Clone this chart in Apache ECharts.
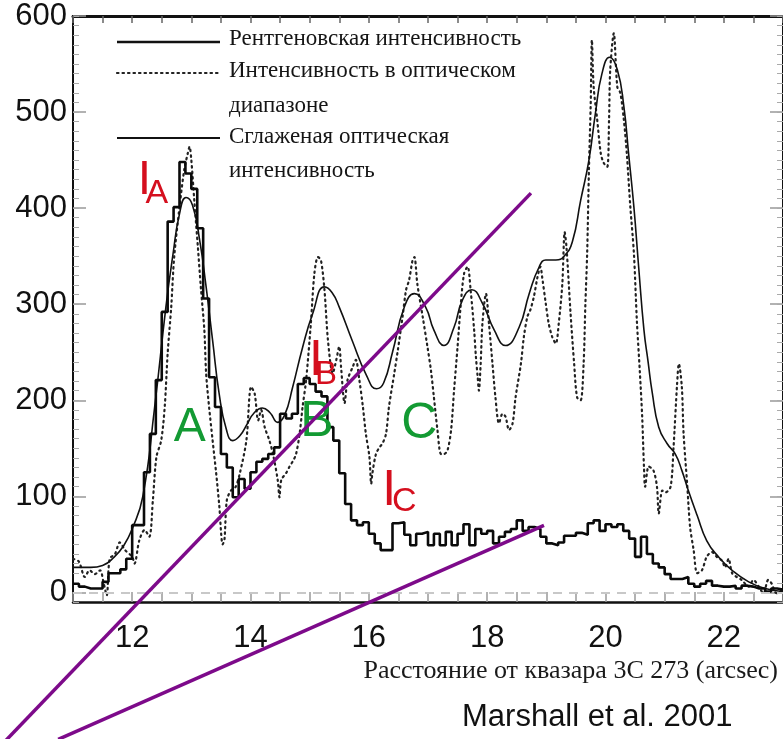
<!DOCTYPE html>
<html><head><meta charset="utf-8">
<script src="https://cdn.jsdelivr.net/npm/echarts@6/dist/echarts.min.js"></script>
<style>html,body{margin:0;padding:0;background:#fff}#c{width:783px;height:739px}</style>
</head><body><div id="c"></div>
<script>
// ---- data ----
const xrayBinStart = 11.0;
const xrayBinWidth = 0.1;
const xrayCounts = [
 9,6,4,4,4,11,20,20,24,35,
 70,70,125,165,221,292,386,401,448,436,
 420,379,306,224,193,144,130,99,118,108,
 125,136,139,144,151,186,181,186,217,223,
 217,209,204,172,158,124,92,75,70,73,
 61,51,44,44,72,73,60,49,61,63,
 49,61,49,63,49,61,71,49,66,61,
 64,51,58,63,66,75,64,68,66,58,
 51,49,52,59,59,62,60,72,75,64,
 71,68,71,64,56,37,58,40,30,26,
 19,14,14,16,9,6,9,12,7,6,
 6,7,4,7,6,4,4,1,4,3];

const opticalX = [11.0,11.1,11.2,11.28,11.37,11.46,11.51,11.57,11.62,11.71,11.79,11.88,12.0,12.04,12.12,12.21,12.29,12.35,12.41,12.49,12.55,12.6,12.66,12.71,12.8,12.88,12.94,12.97,13.0,13.05,13.11,13.16,13.22,13.25,13.3,13.36,13.42,13.47,13.53,13.56,13.6,13.67,13.75,13.82,13.93,14.01,14.07,14.13,14.18,14.24,14.32,14.38,14.46,14.49,14.52,14.6,14.66,14.72,14.77,14.83,14.88,14.94,15.02,15.08,15.14,15.19,15.25,15.31,15.39,15.45,15.5,15.53,15.59,15.64,15.73,15.78,15.84,15.9,15.95,16.01,16.04,16.06,16.12,16.18,16.23,16.29,16.34,16.43,16.49,16.57,16.63,16.68,16.74,16.77,16.82,16.91,16.99,17.05,17.1,17.16,17.22,17.27,17.33,17.39,17.44,17.5,17.55,17.61,17.67,17.72,17.78,17.81,17.84,17.86,17.89,17.92,17.98,18.03,18.09,18.14,18.2,18.26,18.31,18.37,18.43,18.48,18.57,18.62,18.68,18.73,18.79,18.85,18.9,18.93,18.99,19.04,19.1,19.16,19.21,19.27,19.31,19.34,19.41,19.47,19.52,19.58,19.63,19.66,19.69,19.72,19.75,19.77,19.8,19.86,19.92,19.97,20.03,20.06,20.08,20.14,20.2,20.25,20.31,20.36,20.42,20.48,20.53,20.58,20.62,20.65,20.67,20.73,20.81,20.87,20.9,20.96,21.01,21.1,21.15,21.21,21.24,21.29,21.32,21.38,21.43,21.49,21.55,21.63,21.71,21.8,21.88,21.97,22.02,22.08,22.14,22.22,22.3,22.42,22.5,22.59,22.67,22.75,22.81,22.87,22.92,23.0];
const opticalY = [35,32,16,23,19,23,12,-3,35,40,52,44,37,30,54,65,58,96,141,158,193,249,297,349,401,440,457,464,450,408,360,318,273,228,193,158,124,92,50,55,96,106,110,124,158,214,207,179,190,172,158,144,117,99,117,124,131,137,144,165,193,221,280,332,349,346,315,262,228,242,256,235,197,221,235,242,221,193,165,141,113,124,144,151,155,165,193,228,252,287,315,325,346,349,321,287,256,231,203,169,144,144,148,169,210,256,297,332,339,315,273,245,224,210,238,280,311,280,238,203,176,186,183,169,176,203,238,266,287,294,308,328,339,328,301,280,266,259,280,321,375,360,290,238,203,200,238,300,353,440,509,575,526,492,457,447,443,492,544,582,526,520,492,457,401,353,283,230,183,131,110,131,127,110,82,106,104,110,151,217,238,214,165,113,68,44,20,23,37,42,37,33,26,35,20,16,13,6,13,6,-1,13,9,0,-1,5];

const smoothX = [11.0,11.3,11.5,11.7,11.85,12.0,12.18,12.38,12.57,12.69,12.8,12.91,13.02,13.14,13.25,13.36,13.47,13.59,13.7,13.82,13.95,14.05,14.2,14.33,14.46,14.58,14.71,14.88,15.05,15.25,15.38,15.5,15.72,15.96,16.13,16.25,16.4,16.6,16.77,16.96,17.1,17.27,17.44,17.58,17.74,17.92,18.12,18.31,18.54,18.71,18.88,18.99,19.16,19.3,19.44,19.58,19.72,19.83,19.94,20.07,20.2,20.31,20.39,20.48,20.56,20.65,20.72,20.79,20.9,21.04,21.18,21.29,21.4,21.55,21.71,21.91,22.14,22.42,22.7,23.0];
const smoothY = [26,26,28,37,48,66,100,193,297,352,394,411,403,367,318,262,207,170,158,163,176,186,192,187,177,185,213,255,290,318,312,297,262,226,212,218,250,297,311,297,273,257,276,304,315,301,273,257,276,311,339,346,346,350,365,408,450,499,540,557,544,506,457,401,339,273,240,208,172,155,144,127,106,80,54,37,23,11,4,1];

const xTickLabels = [12,14,16,18,20,22];
const yTickLabels = [0,100,200,300,400,500,600];
const yMinorTicks = [];
for (let v = -10; v <= 600; v += 10) yMinorTicks.push(v);

// annotation letters (data coordinates)
const annText  = ['I','A','A','I','B','B','C','I','C'];
const annX     = [12.206,12.417,12.973,15.106,15.275,15.123,16.852,16.346,16.6];
const annY     = [429,415.6,171,240.6,226,177.6,175.5,105,94];
const annColor = ['#d50f1e','#d50f1e','#139a33','#d50f1e','#d50f1e','#139a33','#139a33','#d50f1e','#d50f1e'];
const annSize  = [48,34,48,50,33,50,50,50,34];

// purple pointer lines (data coordinates)
const arrow1 = [[18.74,415.6],[9.836,-156]];
const arrow2 = [[18.96,69.8],[10.75,-153]];

// ---- build ----
const xrayData = xrayCounts.map((v,i)=>[+(xrayBinStart + i*xrayBinWidth).toFixed(2), v]);
xrayData.push([+(xrayBinStart + xrayCounts.length*xrayBinWidth).toFixed(2), xrayCounts[xrayCounts.length-1]]);
const opticalData = opticalX.map((x,i)=>[x, opticalY[i]]);
const smoothData = smoothX.map((x,i)=>[x, smoothY[i]]);
const annData = annText.map((t,i)=>({
  value:[annX[i], annY[i]],
  label:{show:true, position:'inside', formatter:t, color:annColor[i], fontSize:annSize[i],
         fontFamily:'Liberation Sans, Arial, sans-serif'}
}));

const chart = echarts.init(document.getElementById('c'), null, {renderer:'canvas'});
const sans = 'Liberation Sans, Arial, sans-serif';
const serif = 'Liberation Serif, Times New Roman, serif';

const legendGraphics = [
    {type:'line', shape:{x1:117,y1:42,x2:220,y2:42}, style:{stroke:'#111', lineWidth:2.6}},
    {type:'line', shape:{x1:117,y1:73,x2:220,y2:73}, style:{stroke:'#222', lineWidth:2.2, lineDash:[1.5,4], lineCap:'round'}},
    {type:'line', shape:{x1:117,y1:138,x2:220,y2:138}, style:{stroke:'#111', lineWidth:2}},
    {type:'text', left:229, top:27, style:{text:'Рентгеновская интенсивность', font:'23px '+serif, fill:'#151515'}},
    {type:'text', left:229, top:59, style:{text:'Интенсивность в оптическом', font:'23px '+serif, fill:'#151515'}},
    {type:'text', left:229, top:94, style:{text:'диапазоне', font:'23px '+serif, fill:'#151515'}},
    {type:'text', left:229, top:125, style:{text:'Сглаженая оптическая', font:'23px '+serif, fill:'#151515'}},
    {type:'text', left:229, top:159, style:{text:'интенсивность', font:'23px '+serif, fill:'#151515'}},
    {type:'text', right:5, top:658, style:{text:'Расстояние от квазара 3С 273 (arcsec)', font:'26px '+serif, fill:'#1a1a1a'}},
    {type:'text', left:462, top:702, style:{text:'Marshall et al. 2001', font:'31px '+sans, fill:'#111'}}
];

const yBase = {type:'value', min:-10, max:600, splitLine:{show:false}};
chart.setOption({
  animation:false,
  backgroundColor:'#fff',
  grid:{left:73, top:16, right:0, bottom:137, containLabel:false},
  xAxis:[
    {type:'value', min:11, max:23, interval:0.5, position:'bottom',
     axisLine:{show:true, onZero:false, lineStyle:{color:'#111', width:2.5}},
     axisTick:{show:true, inside:true, length:10, lineStyle:{color:'#999', width:1.5}},
     axisLabel:{customValues:xTickLabels, fontSize:31, color:'#111', fontFamily:sans, margin:21},
     splitLine:{show:false}},
    {type:'value', min:11, max:23, interval:0.5, position:'top',
     axisLine:{show:true, onZero:false, lineStyle:{color:'#111', width:3}},
     axisTick:{show:true, inside:true, length:7, lineStyle:{color:'#666', width:1.5}},
     axisLabel:{show:false}, splitLine:{show:false}}
  ],
  yAxis:[
    Object.assign({}, yBase, {position:'left',
     axisLine:{show:true, onZero:false, lineStyle:{color:'#111', width:2}},
     axisTick:{show:true, inside:true, length:13, customValues:yTickLabels, lineStyle:{color:'#999', width:1.5}},
     axisLabel:{customValues:yTickLabels, fontSize:31, color:'#111', fontFamily:sans, margin:6}}),
    Object.assign({}, yBase, {position:'left',
     axisLine:{show:false},
     axisTick:{show:true, inside:true, length:6, customValues:yMinorTicks, lineStyle:{color:'#aaa', width:1}},
     axisLabel:{show:false}}),
    Object.assign({}, yBase, {position:'right',
     axisLine:{show:true, onZero:false, lineStyle:{color:'#111', width:2}},
     axisTick:{show:true, inside:true, length:13, customValues:yTickLabels, lineStyle:{color:'#999', width:1.5}},
     axisLabel:{show:false}}),
    Object.assign({}, yBase, {position:'right',
     axisLine:{show:false},
     axisTick:{show:true, inside:true, length:6, customValues:yMinorTicks, lineStyle:{color:'#aaa', width:1}},
     axisLabel:{show:false}})
  ],
  series:[
    {type:'line', name:'optical', data:opticalData, showSymbol:false, symbol:'none', smooth:0.3, z:2,
     lineStyle:{color:'#222', width:2.2, type:[1.5,4], cap:'round'},
     markLine:{silent:true, symbol:'none', label:{show:false},
       lineStyle:{color:'#c8c8c8', width:2, type:[9,7]}, data:[{yAxis:0}]}},
    {type:'line', name:'smooth', data:smoothData, showSymbol:false, symbol:'none', smooth:0.5, z:3,
     lineStyle:{color:'#111', width:1.6}},
    {type:'line', name:'xray', data:xrayData, step:'end', showSymbol:false, symbol:'none', z:4,
     lineStyle:{color:'#0a0a0a', width:2.6}},
    {type:'scatter', name:'labels', data:annData, symbolSize:0, z:5, silent:true,
     itemStyle:{opacity:1}, emphasis:{disabled:true}}
  ],
  graphic:legendGraphics
});

// purple pointer lines, placed through the chart's own coordinate system
function px(p){ return chart.convertToPixel({xAxisIndex:0, yAxisIndex:0}, p); }
const arrowGraphics = [arrow1, arrow2].map(a=>{
  const p0 = px(a[0]), p1 = px(a[1]);
  return {type:'line', z:100, shape:{x1:p0[0], y1:p0[1], x2:p1[0], y2:p1[1]},
          style:{stroke:'#7d0a8a', lineWidth:3.5}};
});
chart.setOption({graphic: legendGraphics.concat(arrowGraphics)}, {replaceMerge:['graphic']});
</script>
</body></html>
